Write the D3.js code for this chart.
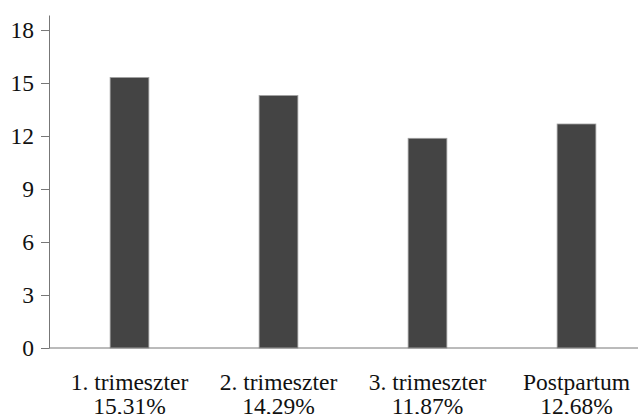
<!DOCTYPE html>
<html>
<head>
<meta charset="utf-8">
<script src="https://cdn.jsdelivr.net/npm/d3@7"></script>
<style>
  body { margin: 0; background: #fff; }
  svg { display: block; }
</style>
</head>
<body>
<div id="chart"></div>
<script>
const categories = ["1. trimeszter", "2. trimeszter", "3. trimeszter", "Postpartum"]
const percentLabels = ["15,31%", "14,29%", "11,87%", "12,68%"]
const values = [15.31, 14.29, 11.87, 12.68]
const yTicks = [0, 3, 6, 9, 12, 15, 18]

const width = 638
const height = 414
const margin = { top: 15, right: 0, bottom: 66, left: 49 }
const serif = "'Liberation Serif', 'Times New Roman', serif"
const fontSize = 23.5

const x = d3.scaleBand()
  .domain(categories)
  .range([55, 651])
  .paddingInner(0.74)
  .paddingOuter(0.37)

const y = d3.scaleLinear()
  .domain([0, 18.85])
  .range([height - margin.bottom, margin.top])

const svg = d3.select("#chart").append("svg")
  .attr("width", width)
  .attr("height", height)
  .attr("viewBox", [0, 0, width, height])
  .attr("font-family", serif)

// bars
svg.append("g")
  .selectAll("rect")
  .data(values)
  .join("rect")
  .attr("x", (d, i) => x(categories[i]))
  .attr("y", d => y(d))
  .attr("width", x.bandwidth())
  .attr("height", d => y(0) - y(d))
  .attr("fill", "#444444")
  .attr("stroke", "#a0a0a0")
  .attr("stroke-width", 0.8)

// y axis
svg.append("g")
  .attr("transform", `translate(${margin.left},0)`)
  .call(d3.axisLeft(y).tickValues(yTicks).tickSize(8).tickPadding(7).tickSizeOuter(0))
  .attr("font-family", serif)
  .attr("font-size", fontSize)
  .call(g => g.select(".domain").attr("stroke", "#777"))
  .call(g => g.selectAll(".tick line").attr("stroke", "#777"))
  .call(g => g.selectAll(".tick text").attr("fill", "#111"))

// x axis line
svg.append("line")
  .attr("x1", margin.left)
  .attr("x2", width)
  .attr("y1", y(0))
  .attr("y2", y(0))
  .attr("stroke", "#777")

// category labels, two lines
const lab = svg.append("g")
  .attr("font-family", serif)
  .attr("font-size", fontSize)
  .selectAll("text")
  .data(categories)
  .join("text")
  .attr("text-anchor", "middle")
  .attr("fill", "#111")

lab.append("tspan")
  .attr("x", d => x(d) + x.bandwidth() / 2)
  .attr("y", y(0) + 42)
  .text(d => d)

lab.append("tspan")
  .attr("x", d => x(d) + x.bandwidth() / 2)
  .attr("y", y(0) + 66)
  .text((d, i) => percentLabels[i])
</script>
</body>
</html>
